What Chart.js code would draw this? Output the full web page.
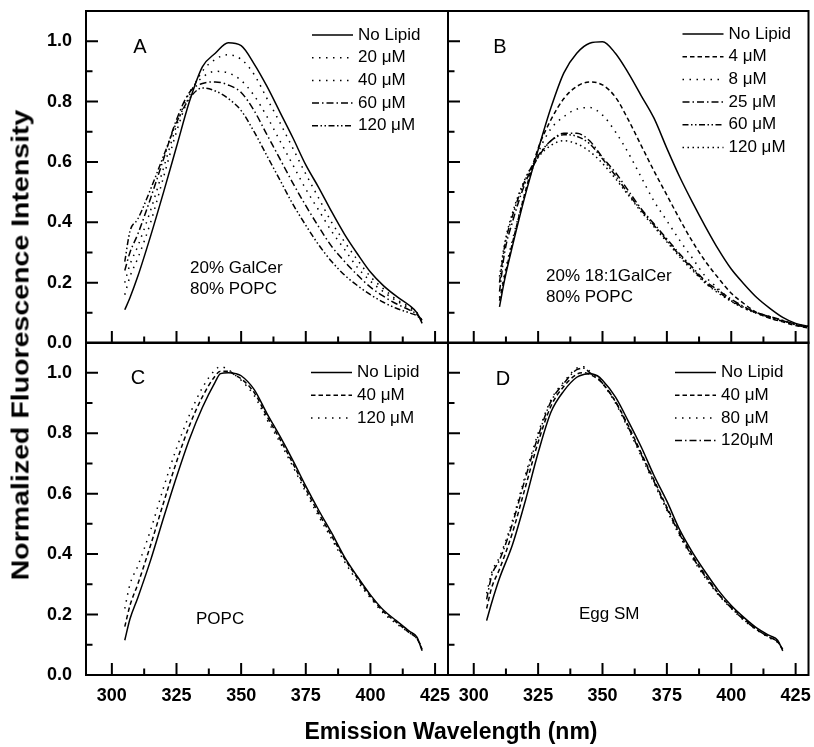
<!DOCTYPE html>
<html>
<head>
<meta charset="utf-8">
<script src="https://cdn.jsdelivr.net/npm/chart.js@4.4.1/dist/chart.umd.min.js"></script>
<style>
    html, body { margin: 0; padding: 0; background: #fff; }
    #fig { position: relative; width: 814px; height: 747px; overflow: hidden; font-family: "Liberation Sans", Arial, sans-serif; }
    #fig canvas { position: absolute; }
    .ttl { position: absolute; font-weight: bold; color: #000; white-space: nowrap; font-size: 23px; }
    #xTitle { left: 451px; top: 731px; transform: translate(-50%, -50%); }
    #yTitle { left: 21px; top: 345px; transform: translate(-50%, -50%) rotate(-90deg) scaleX(1.24); }
</style>
</head>
<body>
<div id="fig">
    <canvas id="pA" width="452" height="360" style="left:0;top:0"></canvas>
    <canvas id="pB" width="370" height="360" style="left:444px;top:0"></canvas>
    <canvas id="pC" width="452" height="409" style="left:0;top:338px"></canvas>
    <canvas id="pD" width="370" height="409" style="left:444px;top:338px"></canvas>
    <div class="ttl" id="xTitle">Emission Wavelength (nm)</div>
    <div class="ttl" id="yTitle">Normalized Fluorescence Intensity</div>
</div>
<script>
// axis ticks
const xMajorTicks = [300, 325, 350, 375, 400, 425];
const xMinorTicks = [312.5, 337.5, 362.5, 387.5, 412.5];
const yMajorTicks = [0, 0.2, 0.4, 0.6, 0.8, 1.0];
const yMinorTicks = [0.1, 0.3, 0.5, 0.7, 0.9];

// panel A: 20% GalCer / 80% POPC
const wlA = [305, 307, 310, 315, 320, 325, 330, 335, 340, 345, 350, 355, 360, 365, 370, 375, 380, 385, 390, 395, 400, 405, 410, 415, 418, 420];
const labelsA = ["No Lipid", "20 \u03bcM", "40 \u03bcM", "60 \u03bcM", "120 \u03bcM"];
const aNoLipid = [0.11, 0.15, 0.22, 0.355, 0.50, 0.65, 0.80, 0.915, 0.96, 0.995, 0.985, 0.925, 0.85, 0.765, 0.68, 0.59, 0.515, 0.435, 0.36, 0.295, 0.235, 0.19, 0.155, 0.125, 0.10, 0.065];
const a20 = [0.16, 0.22, 0.28, 0.40, 0.55, 0.70, 0.82, 0.90, 0.94, 0.955, 0.94, 0.89, 0.81, 0.73, 0.645, 0.56, 0.48, 0.40, 0.335, 0.275, 0.22, 0.18, 0.145, 0.12, 0.10, 0.075];
const a40 = [0.20, 0.26, 0.32, 0.44, 0.58, 0.72, 0.83, 0.88, 0.90, 0.895, 0.87, 0.82, 0.75, 0.67, 0.59, 0.51, 0.44, 0.37, 0.31, 0.25, 0.205, 0.17, 0.14, 0.115, 0.095, 0.075];
const a60 = [0.24, 0.30, 0.36, 0.48, 0.61, 0.74, 0.83, 0.86, 0.865, 0.855, 0.83, 0.77, 0.69, 0.61, 0.53, 0.455, 0.385, 0.32, 0.27, 0.225, 0.185, 0.155, 0.13, 0.11, 0.095, 0.075];
const a120 = [0.27, 0.37, 0.41, 0.51, 0.62, 0.73, 0.81, 0.845, 0.835, 0.81, 0.77, 0.70, 0.62, 0.54, 0.46, 0.39, 0.325, 0.27, 0.225, 0.19, 0.16, 0.135, 0.115, 0.10, 0.09, 0.075];
const notesA = ["20% GalCer", "80% POPC"];

// panel B: 20% 18:1GalCer / 80% POPC
const wlB = [310, 312, 315, 320, 325, 330, 335, 340, 345, 350, 355, 360, 365, 370, 375, 380, 385, 390, 395, 400, 405, 410, 415, 420, 425, 430];
const labelsB = ["No Lipid", "4 \u03bcM", "8 \u03bcM", "25 \u03bcM", "60 \u03bcM", "120 \u03bcM"];
const bNoLipid = [0.12, 0.21, 0.32, 0.49, 0.64, 0.78, 0.895, 0.96, 0.993, 0.998, 0.96, 0.895, 0.82, 0.745, 0.645, 0.55, 0.465, 0.385, 0.31, 0.245, 0.195, 0.15, 0.115, 0.085, 0.065, 0.055];
const b4 = [0.14, 0.22, 0.33, 0.50, 0.645, 0.74, 0.81, 0.85, 0.865, 0.855, 0.815, 0.74, 0.655, 0.57, 0.49, 0.41, 0.335, 0.27, 0.215, 0.165, 0.13, 0.10, 0.082, 0.07, 0.058, 0.05];
const b8 = [0.15, 0.23, 0.34, 0.50, 0.63, 0.71, 0.75, 0.775, 0.78, 0.755, 0.70, 0.63, 0.55, 0.47, 0.405, 0.34, 0.28, 0.22, 0.18, 0.14, 0.115, 0.098, 0.083, 0.072, 0.063, 0.055];
const b25 = [0.17, 0.30, 0.40, 0.53, 0.615, 0.67, 0.695, 0.695, 0.67, 0.615, 0.565, 0.505, 0.445, 0.395, 0.345, 0.295, 0.25, 0.205, 0.175, 0.145, 0.12, 0.10, 0.088, 0.075, 0.062, 0.052];
const b60 = [0.20, 0.32, 0.42, 0.54, 0.62, 0.67, 0.69, 0.685, 0.66, 0.61, 0.555, 0.495, 0.44, 0.39, 0.34, 0.29, 0.245, 0.20, 0.17, 0.14, 0.118, 0.10, 0.087, 0.074, 0.061, 0.05];
const b120 = [0.22, 0.33, 0.43, 0.545, 0.615, 0.655, 0.67, 0.66, 0.635, 0.595, 0.545, 0.49, 0.435, 0.385, 0.335, 0.285, 0.24, 0.198, 0.165, 0.138, 0.115, 0.098, 0.085, 0.072, 0.06, 0.05];
const notesB = ["20% 18:1GalCer", "80% POPC"];

// panel C: POPC
const wlC = [305, 307, 310, 315, 320, 325, 330, 335, 340, 342, 345, 348, 350, 355, 360, 365, 370, 375, 380, 385, 390, 395, 400, 405, 410, 415, 418, 420];
const labelsC = ["No Lipid", "40 \u03bcM", "120 \u03bcM"];
const cNoLipid = [0.115, 0.185, 0.255, 0.38, 0.52, 0.655, 0.78, 0.885, 0.97, 0.997, 1.0, 0.997, 0.99, 0.945, 0.865, 0.79, 0.71, 0.625, 0.545, 0.47, 0.39, 0.325, 0.265, 0.215, 0.18, 0.145, 0.125, 0.08];
const c40 = [0.16, 0.23, 0.30, 0.43, 0.57, 0.705, 0.825, 0.92, 0.99, 1.005, 1.005, 0.99, 0.98, 0.935, 0.855, 0.78, 0.70, 0.615, 0.535, 0.46, 0.385, 0.32, 0.26, 0.21, 0.175, 0.14, 0.12, 0.085];
const c120 = [0.22, 0.30, 0.36, 0.48, 0.62, 0.75, 0.86, 0.95, 1.01, 1.02, 1.01, 0.99, 0.975, 0.925, 0.845, 0.77, 0.69, 0.605, 0.525, 0.45, 0.375, 0.31, 0.255, 0.205, 0.17, 0.14, 0.12, 0.09];
const notesC = ["POPC"];

// panel D: Egg SM
const wlD = [305, 307, 310, 315, 320, 325, 330, 335, 340, 343, 345, 348, 350, 355, 360, 365, 370, 375, 380, 385, 390, 395, 400, 405, 410, 415, 418, 420];
const labelsD = ["No Lipid", "40 \u03bcM", "80 \u03bcM", "120\u03bcM"];
const dNoLipid = [0.18, 0.24, 0.32, 0.43, 0.575, 0.735, 0.87, 0.94, 0.985, 0.995, 0.997, 0.99, 0.975, 0.92, 0.84, 0.755, 0.66, 0.575, 0.48, 0.405, 0.34, 0.28, 0.23, 0.19, 0.155, 0.13, 0.115, 0.08];
const d40 = [0.22, 0.29, 0.35, 0.47, 0.62, 0.77, 0.89, 0.955, 0.995, 1.0, 0.995, 0.98, 0.965, 0.905, 0.825, 0.735, 0.645, 0.555, 0.47, 0.395, 0.33, 0.27, 0.225, 0.185, 0.15, 0.125, 0.11, 0.085];
const d80 = [0.27, 0.34, 0.39, 0.51, 0.66, 0.80, 0.91, 0.97, 1.015, 1.02, 1.005, 0.985, 0.965, 0.90, 0.815, 0.725, 0.635, 0.545, 0.46, 0.385, 0.32, 0.265, 0.22, 0.18, 0.148, 0.122, 0.108, 0.085];
const d120 = [0.25, 0.33, 0.38, 0.50, 0.65, 0.79, 0.905, 0.965, 1.01, 1.015, 1.0, 0.985, 0.965, 0.905, 0.82, 0.73, 0.64, 0.55, 0.465, 0.39, 0.325, 0.268, 0.222, 0.182, 0.15, 0.124, 0.11, 0.085];
const notesD = ["Egg SM"];

// line styles
const SOLID = [];
const DASH = [4.5, 3];
const DOT = [1.5, 5.5];
const DOT_FINE = [1.5, 3.5];
const DASH_DOT = [7, 3, 1.5, 3];
const DASH_DOT_DOT = [6, 2.5, 1.5, 2.5, 1.5, 2.5];

const FONT = '"Liberation Sans", Arial, sans-serif';

// frame, inward ticks, panel letter, notes and legend
const panelDecor = {
    id: "panelDecor",
    afterDatasetsDraw: function (chart, args, o) {
        const ctx = chart.ctx;
        const a = chart.chartArea;
        const xs = chart.scales.x;
        const ys = chart.scales.y;
        ctx.save();
        ctx.strokeStyle = "#000";
        ctx.fillStyle = "#000";
        ctx.lineWidth = 2;
        ctx.setLineDash([]);
        ctx.beginPath();
        xMajorTicks.forEach(function (v) {
            const p = xs.getPixelForValue(v);
            ctx.moveTo(p, a.bottom);
            ctx.lineTo(p, a.bottom - 12);
        });
        xMinorTicks.forEach(function (v) {
            const p = xs.getPixelForValue(v);
            ctx.moveTo(p, a.bottom);
            ctx.lineTo(p, a.bottom - 6.5);
        });
        yMajorTicks.forEach(function (v) {
            const p = ys.getPixelForValue(v);
            ctx.moveTo(a.left, p);
            ctx.lineTo(a.left + 12, p);
        });
        yMinorTicks.forEach(function (v) {
            const p = ys.getPixelForValue(v);
            ctx.moveTo(a.left, p);
            ctx.lineTo(a.left + 6.5, p);
        });
        ctx.stroke();
        ctx.strokeRect(a.left, a.top, a.right - a.left, a.bottom - a.top);

        ctx.textBaseline = "middle";
        ctx.textAlign = "center";
        ctx.font = "20px " + FONT;
        ctx.fillText(o.letter, a.left + o.letterX, a.top + o.letterY);

        ctx.textAlign = "left";
        ctx.font = "17px " + FONT;
        o.notes.forEach(function (t, i) {
            ctx.fillText(t, a.left + o.noteX, a.top + o.noteY + i * 21);
        });

        const x0 = a.right - o.legendRight;
        chart.data.datasets.forEach(function (ds, i) {
            const y = a.top + o.legendTop + i * 22.7;
            ctx.lineWidth = 1.5;
            ctx.setLineDash(ds.borderDash || []);
            ctx.beginPath();
            ctx.moveTo(x0, y);
            ctx.lineTo(x0 + 41, y);
            ctx.stroke();
            ctx.setLineDash([]);
            ctx.fillText(ds.label, x0 + 46, y);
        });
        ctx.restore();
    },
};

// keep the chart area exactly where the layout padding puts it
function noScalePadding(s) {
    s.paddingTop = 0;
    s.paddingBottom = 0;
    s.paddingLeft = 0;
    s.paddingRight = 0;
}

function makePanel(id, wl, labels, series, dashes, cfg) {
    const canvas = document.getElementById(id);
    const datasets = series.map(function (vals, i) {
        return {
            label: labels[i],
            data: wl.map(function (x, j) { return { x: x, y: vals[j] }; }),
            borderColor: "#000",
            borderWidth: 1.5,
            borderDash: dashes[i],
            pointRadius: 0,
            fill: false,
            cubicInterpolationMode: "monotone",
        };
    });
    return new Chart(canvas.getContext("2d"), {
        type: "line",
        data: { datasets: datasets },
        plugins: [panelDecor],
        options: {
            responsive: false,
            animation: false,
            events: [],
            layout: { padding: cfg.padding },
            plugins: {
                legend: { display: false },
                tooltip: { enabled: false },
                panelDecor: cfg.decor,
            },
            scales: {
                x: {
                    type: "linear",
                    min: 290,
                    max: 430,
                    grid: { display: false, drawTicks: false },
                    border: { display: false },
                    ticks: {
                        display: cfg.showX,
                        padding: 10,
                        color: "#000",
                        maxRotation: 0,
                        autoSkip: false,
                        font: { family: FONT, size: 18, weight: "bold" },
                    },
                    afterBuildTicks: function (s) {
                        s.ticks = xMajorTicks.map(function (v) { return { value: v }; });
                    },
                    afterFit: function (s) {
                        s.height = cfg.showX ? 72 : 0;
                        noScalePadding(s);
                    },
                },
                y: {
                    type: "linear",
                    min: 0,
                    max: 1.1,
                    grid: { display: false, drawTicks: false },
                    border: { display: false },
                    ticks: {
                        display: cfg.showY,
                        padding: 14,
                        color: "#000",
                        font: { family: FONT, size: 18, weight: "bold" },
                        callback: function (v) { return Number(v).toFixed(1); },
                    },
                    afterBuildTicks: function (s) {
                        s.ticks = yMajorTicks.map(function (v) { return { value: v }; });
                    },
                    afterFit: function (s) {
                        s.width = cfg.showY ? 86 : 0;
                        noScalePadding(s);
                    },
                },
            },
        },
    });
}

makePanel("pA", wlA, labelsA, [aNoLipid, a20, a40, a60, a120],
    [SOLID, DOT, DOT, DASH_DOT, DASH_DOT_DOT], {
        padding: { left: 0, top: 11, right: 4, bottom: 17 },
        showX: false, showY: true,
        decor: { letter: "A", letterX: 54, letterY: 36, notes: notesA, noteX: 104, noteY: 257, legendRight: 136, legendTop: 24 },
    });

makePanel("pB", wlB, labelsB, [bNoLipid, b4, b8, b25, b60, b120],
    [SOLID, DASH, DOT, DASH_DOT, DASH_DOT_DOT, DOT_FINE], {
        padding: { left: 4, top: 11, right: 5.5, bottom: 17 },
        showX: false, showY: false,
        decor: { letter: "B", letterX: 52, letterY: 36, notes: notesB, noteX: 98, noteY: 265, legendRight: 126, legendTop: 23 },
    });

makePanel("pC", wlC, labelsC, [cNoLipid, c40, c120],
    [SOLID, DASH, DOT], {
        padding: { left: 0, top: 4.5, right: 4, bottom: 0 },
        showX: true, showY: true,
        decor: { letter: "C", letterX: 52, letterY: 36, notes: notesC, noteX: 110, noteY: 277, legendRight: 137, legendTop: 30 },
    });

makePanel("pD", wlD, labelsD, [dNoLipid, d40, d80, d120],
    [SOLID, DASH, DOT, DASH_DOT], {
        padding: { left: 4, top: 4.5, right: 5.5, bottom: 0 },
        showX: true, showY: false,
        decor: { letter: "D", letterX: 55, letterY: 37, notes: notesD, noteX: 131, noteY: 272, legendRight: 133.5, legendTop: 30 },
    });
</script>
</body>
</html>
